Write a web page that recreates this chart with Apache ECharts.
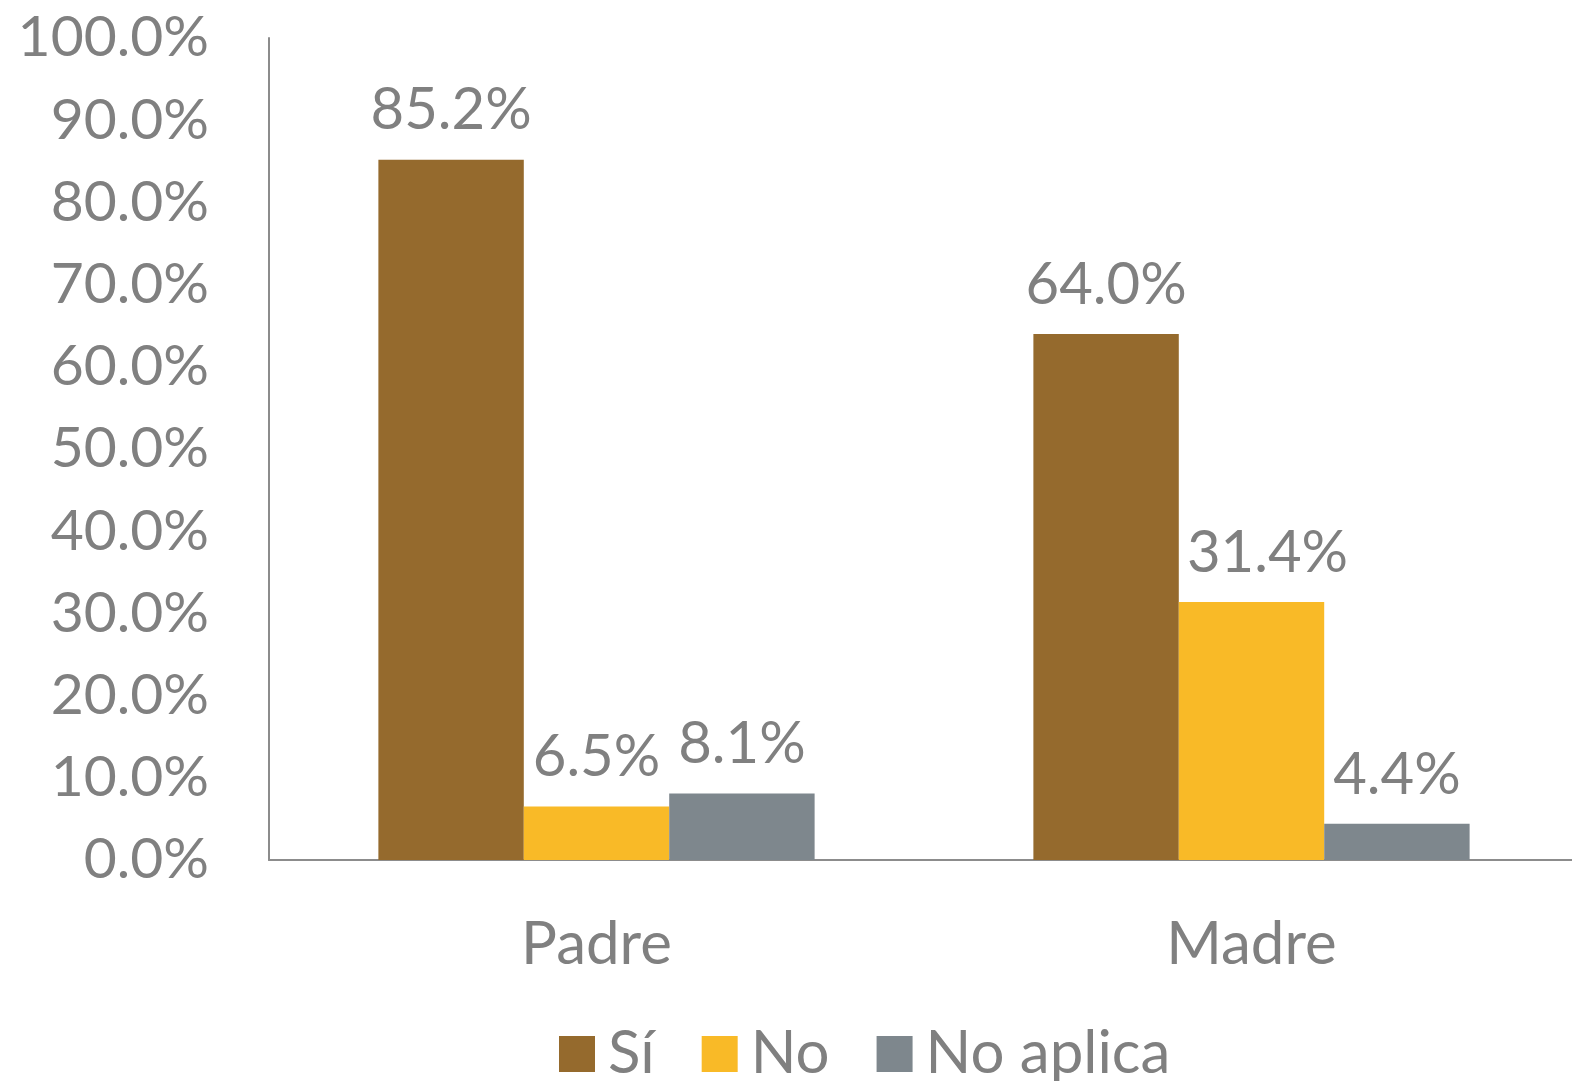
<!DOCTYPE html>
<html>
<head>
<meta charset="utf-8">
<script src="https://cdn.jsdelivr.net/npm/echarts@6/dist/echarts.min.js"></script>
<style>
html,body{margin:0;padding:0;background:#fff;}
#container1{width:1572px;height:1081px;}
</style>
</head>
<body>
<div id="container1"></div>
<script>
var categories = ['Padre', 'Madre'];
var seriesNames = ['Sí', 'No', 'No aplica'];
var si = [85.2, 64.0];
var no = [6.5, 31.4];
var noAplica = [8.1, 4.4];
var colors = ['#956A2D', '#F9BA27', '#7E878D'];

var textColor = '#808080';
var fontFamily = 'Lato, "Open Sans", sans-serif';

var dom1 = document.getElementById('container1');
var myChart1 = echarts.init(dom1);

// labelShift: horizontal nudge of a data label, per category (Excel moved one label)
function makeSeries(name, data, color, labelShift){
    var items = data.map(function(v, i){
        var it = { value: v };
        if (labelShift && labelShift[i]) {
            it.label = { offset: [labelShift[i], 0] };
        }
        return it;
    });
    return {
        name: name,
        type: 'bar',
        data: items,
        barGap: '0%',
        barCategoryGap: '33.4%',
        itemStyle: { color: color },
        label: {
            show: true,
            position: 'top',
            distance: 20,
            color: textColor,
            fontFamily: fontFamily,
            fontSize: 58,
            formatter: function(p){ return p.value.toFixed(1) + '%'; }
        }
    };
}

var option1 = {
    animation: false,
    backgroundColor: '#fff',
    grid: {
        left: 269,
        top: 38,
        width: 1310,
        height: 822,
        outerBoundsMode: 'none'
    },
    legend: {
        top: 1019,
        left: 554,
        itemWidth: 36,
        itemHeight: 36,
        itemGap: 47,
        icon: 'rect',
        textStyle: {
            color: textColor,
            fontFamily: fontFamily,
            fontSize: 60,
            padding: [0, 0, 0, 8]
        },
        data: seriesNames
    },
    xAxis: [
        {
            type: 'category',
            data: categories,
            axisLine: { lineStyle: { color: '#8C8C8C', width: 2 } },
            axisTick: { show: false },
            axisLabel: {
                margin: 55,
                color: textColor,
                fontFamily: fontFamily,
                fontSize: 60
            }
        }
    ],
    yAxis: [
        {
            type: 'value',
            min: 0,
            max: 100,
            interval: 10,
            axisLine: { show: true, lineStyle: { color: '#8C8C8C', width: 2 } },
            axisTick: { show: false },
            splitLine: { show: false },
            axisLabel: {
                margin: 60,
                color: textColor,
                fontFamily: fontFamily,
                fontSize: 57,
                formatter: function(v){ return v.toFixed(1) + '%'; }
            }
        }
    ],
    series: [
        makeSeries(seriesNames[0], si, colors[0]),
        makeSeries(seriesNames[1], no, colors[1], [0, 16]),
        makeSeries(seriesNames[2], noAplica, colors[2])
    ]
};
myChart1.setOption(option1);
</script>
</body>
</html>
